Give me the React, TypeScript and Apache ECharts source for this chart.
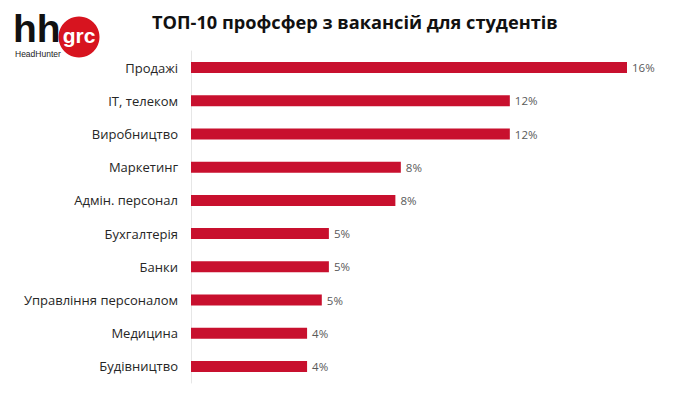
import React, { useEffect, useRef } from "react";
import * as echarts from "echarts";

const categories = [
  "Продажі",
  "IT, телеком",
  "Виробництво",
  "Маркетинг",
  "Адмін. персонал",
  "Бухгалтерія",
  "Банки",
  "Управління персоналом",
  "Медицина",
  "Будівництво",
];
const values = [16.0, 11.7, 11.7, 7.7, 7.5, 5.06, 5.06, 4.8, 4.26, 4.26];
const titleText = "ТОП-10 профсфер з вакансій для студентів";

export default function App() {
  const ref = useRef<HTMLDivElement>(null);
  useEffect(() => {
    const chart = echarts.init(ref.current!, null, { renderer: "svg" });
    chart.setOption({
      animation: false,
      backgroundColor: "#ffffff",
      title: {
        text: titleText,
        left: 147,
        top: 8,
        textStyle: {
          fontFamily: "Open Sans",
          fontWeight: "bold",
          fontSize: 18.2,
          color: "#111111",
        },
      },
      graphic: [
        {
          type: "text",
          left: 13,
          top: 9,
          style: {
            text: "hh",
            fontFamily: "Liberation Sans",
            fontWeight: "bold",
            fontSize: 39,
            fill: "#111111",
            letterSpacing: -1,
          },
        },
        {
          type: "circle",
          shape: { cx: 79, cy: 37, r: 20.5 },
          style: { fill: "#d7141f" },
        },
        {
          type: "text",
          x: 79,
          y: 35,
          style: {
            text: "grc",
            fontFamily: "Liberation Sans",
            fontWeight: "bold",
            fontSize: 21,
            fill: "#ffffff",
            align: "center",
            verticalAlign: "middle",
          },
        },
        {
          type: "text",
          left: 15,
          top: 49,
          style: {
            text: "HeadHunter",
            fontFamily: "Liberation Sans",
            fontSize: 8.5,
            fill: "#222222",
          },
        },
      ],
      grid: { left: 191, right: 73, top: 51, bottom: 11, containLabel: false },
      xAxis: {
        type: "value",
        min: 0,
        max: 16,
        show: false,
      },
      yAxis: {
        type: "category",
        data: categories,
        inverse: true,
        axisLine: { show: true, lineStyle: { color: "#e6e6e6", width: 1 } },
        axisTick: { show: false },
        axisLabel: {
          margin: 13,
          fontFamily: "Open Sans",
          fontSize: 13,
          color: "#262626",
        },
      },
      series: [
        {
          type: "bar",
          data: values,
          barWidth: 11,
          itemStyle: { color: "#c8102e" },
          label: {
            show: true,
            position: "right",
            distance: 5,
            fontFamily: "Open Sans",
            fontSize: 11.5,
            color: "#595959",
            formatter: (p: any) => Math.round(p.value) + "%",
          },
        },
      ],
    });
    return () => chart.dispose();
  }, []);
  return <div ref={ref} style={{ width: 700, height: 394, position: "fixed", left: 0, top: 0 }} />;
}
